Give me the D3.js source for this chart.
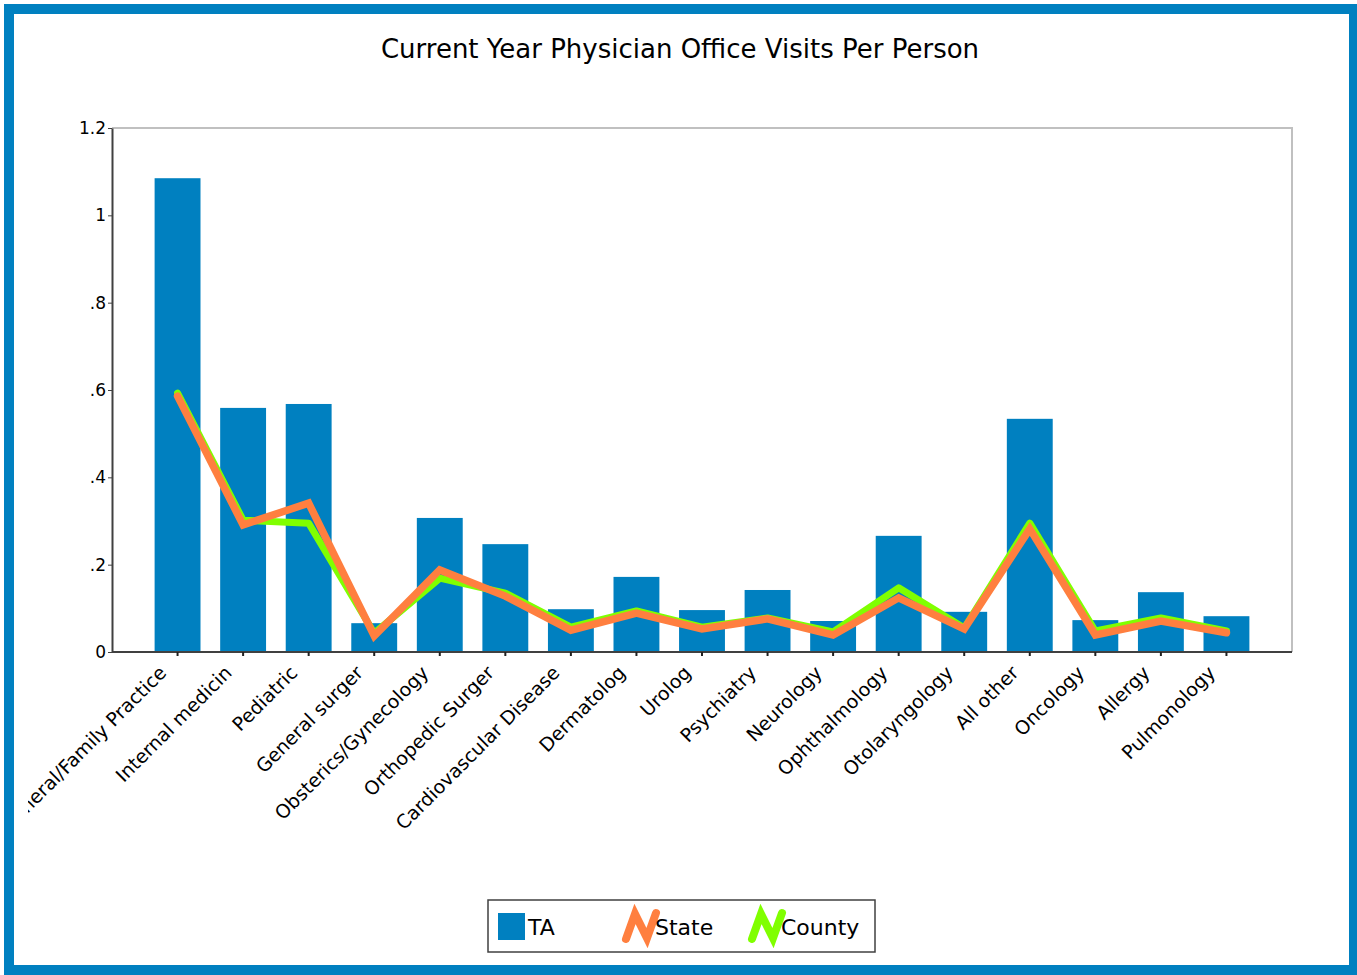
<!DOCTYPE html>
<meta charset="utf-8">
<style>
  body { margin: 0; background: #fff; }
  text { font-family: "DejaVu Sans", Verdana, sans-serif; fill: #000; }
</style>
<body>
<svg id="chart" width="1357" height="975"></svg>
<script src="https://cdnjs.cloudflare.com/ajax/libs/d3/7.8.5/d3.min.js"></script>
<script>

  // data
  var categories = ['General/Family Practice', 'Internal medicin', 'Pediatric', 'General surger',
    'Obsterics/Gynecology', 'Orthopedic Surger', 'Cardiovascular Disease', 'Dermatolog', 'Urolog',
    'Psychiatry', 'Neurology', 'Ophthalmology', 'Otolaryngology', 'All other', 'Oncology',
    'Allergy', 'Pulmonology']
  var taValues = [1.085, 0.559, 0.568, 0.066, 0.307, 0.247, 0.098, 0.172, 0.096, 0.142, 0.071,
    0.266, 0.092, 0.534, 0.073, 0.137, 0.082]
  var stateValues = [0.586, 0.291, 0.341, 0.037, 0.188, 0.128, 0.050, 0.089, 0.053, 0.076, 0.039,
    0.124, 0.053, 0.282, 0.039, 0.071, 0.044]
  var countyValues = [0.593, 0.302, 0.295, 0.043, 0.169, 0.135, 0.057, 0.094, 0.057, 0.078, 0.046,
    0.147, 0.055, 0.295, 0.048, 0.078, 0.048]
  var yTicks = [0, 0.2, 0.4, 0.6, 0.8, 1, 1.2]

  var blue = '#0080c0', orange = '#ff7f3f', green = '#80ff00'

  var svg = d3.select('#chart')

  // frame
  svg.append('rect')
    .attr('x', 9).attr('y', 9).attr('width', 1345).attr('height', 961)
    .attr('fill', 'white').attr('stroke', blue).attr('stroke-width', 10)

  svg.append('text')
    .attr('x', 680).attr('y', 58)
    .attr('text-anchor', 'middle')
    .style('font-size', '26px')
    .text('Current Year Physician Office Visits Per Person')

  var pLeft = 112, pRight = 1292, pTop = 128, pBottom = 652

  // categories sit at slots 1..17 of 19 evenly spaced points
  var slots = d3.range(categories.length + 2)
  var xp = d3.scalePoint().domain(slots).range([pLeft, pRight])
  var x = function (i) { return xp(i + 1) }
  var step = xp.step()
  var y = d3.scaleLinear().domain([0, 1.2]).range([pBottom, pTop])

  svg.append('defs').append('clipPath').attr('id', 'clip')
    .append('rect').attr('x', 28).attr('y', 14).attr('width', 1320).attr('height', 950)

  var g = svg.append('g').attr('clip-path', 'url(#clip)')

  // plot box (top/right light)
  g.append('path')
    .attr('d', 'M' + pLeft + ',' + pTop + 'H' + pRight + 'V' + pBottom)
    .attr('fill', 'none').attr('stroke', '#c0c0c0').attr('stroke-width', 2)

  // bars
  var bw = step * 0.7
  g.selectAll('rect.bar')
    .data(taValues)
    .join('rect')
    .attr('class', 'bar')
    .attr('x', (d, i) => x(i) - bw / 2)
    .attr('y', d => y(d))
    .attr('width', bw)
    .attr('height', d => y(0) - y(d))
    .attr('fill', blue)

  var line = d3.line().x((d, i) => x(i)).y(d => y(d))

  g.append('path').datum(countyValues)
    .attr('d', line)
    .attr('fill', 'none').attr('stroke', green).attr('stroke-width', 7)
    .attr('stroke-linejoin', 'round').attr('stroke-linecap', 'round')

  g.append('path').datum(stateValues)
    .attr('d', line)
    .attr('fill', 'none').attr('stroke', orange).attr('stroke-width', 7.5)
    .attr('stroke-linejoin', 'miter').attr('stroke-linecap', 'round')

  // y axis, labels like "0", ".2", "1", "1.2"
  var fmt = function (d) {
    if (d === 0) return '0'
    return d3.format('.1f')(d).replace(/^0\./, '.').replace(/\.0$/, '')
  }
  var yAxis = d3.axisLeft(y).tickValues(yTicks).tickSize(4).tickSizeOuter(0).tickFormat(fmt)
  var ya = g.append('g').attr('transform', 'translate(' + pLeft + ',0)').call(yAxis)
  ya.select('.domain').attr('stroke', '#404040').attr('stroke-width', 2)
  ya.selectAll('.tick line').attr('stroke', '#404040')
  ya.selectAll('.tick text').attr('x', -6).style('font-size', '17px')
    .style('font-family', '"DejaVu Sans", Verdana, sans-serif').attr('fill', '#000')

  // x axis
  var xa = g.append('g').attr('transform', 'translate(0,' + pBottom + ')')
  xa.append('line').attr('x1', pLeft).attr('x2', pRight)
    .attr('stroke', '#404040').attr('stroke-width', 2)
  xa.selectAll('line.tick')
    .data(categories)
    .join('line')
    .attr('class', 'tick')
    .attr('x1', (d, i) => x(i)).attr('x2', (d, i) => x(i))
    .attr('y1', 0).attr('y2', 4)
    .attr('stroke', '#202020').attr('stroke-width', 2)
  xa.selectAll('text')
    .data(categories)
    .join('text')
    .attr('text-anchor', 'end')
    .attr('transform', (d, i) => 'translate(' + (x(i) - 10) + ',22) rotate(-45)')
    .style('font-size', '19px')
    .text(d => d)

  // legend
  var lg = svg.append('g').attr('transform', 'translate(488,900)')
  lg.append('rect').attr('width', 387).attr('height', 52)
    .attr('fill', 'white').attr('stroke', '#404040').attr('stroke-width', 1.5)
  lg.append('rect').attr('x', 10).attr('y', 13).attr('width', 27).attr('height', 27).attr('fill', blue)
  lg.append('text').attr('x', 40).attr('y', 35).style('font-size', '22px').text('TA')

  var icon = [[0, 39], [9, 14], [21, 38], [30, 13]]
  var legendLines = [{ name: 'State', color: orange, x: 138 }, { name: 'County', color: green, x: 264 }]
  legendLines.forEach(function (s) {
    lg.append('path')
      .attr('d', d3.line()(icon.map(p => [p[0] + s.x, p[1]])))
      .attr('fill', 'none').attr('stroke', s.color).attr('stroke-width', 8)
      .attr('stroke-linecap', 'round').attr('stroke-linejoin', 'miter')
    lg.append('text').attr('x', s.x + 29).attr('y', 35).style('font-size', '22px').text(s.name)
  })

</script>
</body>
